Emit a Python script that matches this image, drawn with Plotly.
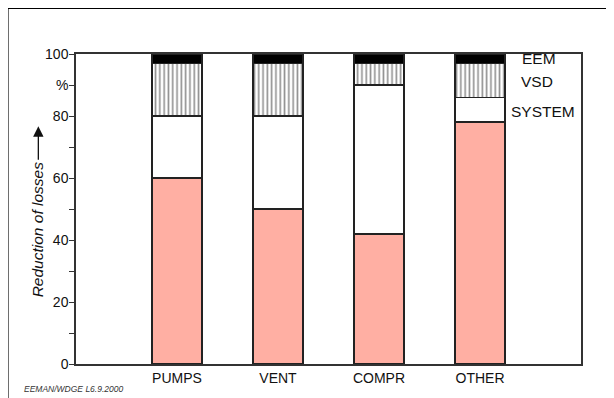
import plotly.graph_objects as go

categories = ["PUMPS", "VENT", "COMPR", "OTHER"]
base = [60, 50, 42, 78]
system = [20, 30, 48, 8]
vsd = [17, 17, 7, 11]
eem = [3, 3, 3, 3]
ytick_vals = [0, 10, 20, 30, 40, 50, 60, 70, 80, 90, 100]
ytick_text = ["0", "", "20", "", "40", "", "60", "", "80", "%", "100"]
xpos = [1, 2, 3, 4]

FONT = "Liberation Sans, Arial, sans-serif"
OFF = 8  # browser body margin
W, H = 614 - OFF, 398 - OFF
# plot area in page pixels: x 76..581.5, y 54..367
L = 76 - OFF
T = 54 - OFF
R = W - (581.5 - OFF)
B = H - (367 - OFF)
PW, PH = W - L - R, H - T - B

def px2x(px):
    return (px - OFF - L) / PW

def py2y(py):
    return (H - B - (py - OFF)) / PH

fig = go.Figure()
edge = dict(color="#222", width=1.6)
fig.add_bar(x=xpos, y=base, width=0.5, marker=dict(color="#FFAFA3", line=edge), showlegend=False)
fig.add_bar(x=xpos, y=system, width=0.5, marker=dict(color="white", line=edge), showlegend=False)
fig.add_bar(x=xpos, y=vsd, width=0.5,
            marker=dict(color="white", line=edge,
                        pattern=dict(shape="|", fgcolor="#222", bgcolor="white", size=4.3, solidity=0.38)),
            showlegend=False)
fig.add_bar(x=xpos, y=eem, width=0.5, marker=dict(color="black", line=edge), showlegend=False)

fig.update_layout(
    barmode="stack",
    width=W, height=H,
    margin=dict(l=L, r=R, t=T, b=B, pad=0),
    paper_bgcolor="white", plot_bgcolor="white",
    font=dict(family=FONT, size=14, color="#111"),
    xaxis=dict(range=[0, 5], tickvals=xpos, ticktext=categories, ticks="", showgrid=False,
               zeroline=False, showline=True, linecolor="#333", linewidth=1.5, mirror=True,
               tickfont=dict(size=14)),
    yaxis=dict(range=[0, 100], tickvals=ytick_vals, ticktext=ytick_text, ticks="outside",
               ticklen=5, tickcolor="#333", showgrid=False, zeroline=False, showline=True,
               linecolor="#333", linewidth=1.5, mirror=True, tickfont=dict(size=14),
               ticklabelstandoff=-2),
)

# segment labels
for txt, xv, yv in [("EEM", 4.58, 98.7), ("VSD", 4.565, 91.2), ("SYSTEM", 4.62, 81.6)]:
    fig.add_annotation(x=xv, y=yv, xref="x", yref="y", text=txt, showarrow=False,
                       xanchor="center", yanchor="middle", font=dict(size=15.5, color="#111"))

# y-axis title with arrow
fig.add_annotation(x=px2x(37), y=py2y(231), xref="paper", yref="paper",
                   text="<i>Reduction of losses</i>", textangle=-90, showarrow=False,
                   xanchor="center", yanchor="middle", font=dict(size=15.5, color="#111"))
fig.add_annotation(x=px2x(38.3), y=py2y(127), xref="paper", yref="paper", text="",
                   showarrow=True, ax=0, ay=35, arrowhead=2, arrowsize=1.6, arrowwidth=1.3,
                   arrowcolor="#111")

# footer
fig.add_annotation(x=px2x(22), y=py2y(385), xref="paper", yref="paper",
                   text="<i>EEMAN/WDGE L6.9.2000</i>", showarrow=False,
                   xanchor="left", yanchor="top", font=dict(size=8.5, color="#333"))

# outer frame (left and top visible)
fig.add_shape(type="rect", xref="paper", yref="paper",
              x0=px2x(7.5), x1=px2x(640), y0=py2y(7.5), y1=py2y(430),
              line=dict(color="black", width=2), fillcolor="rgba(0,0,0,0)", layer="above")

fig.write_html("out.html")
